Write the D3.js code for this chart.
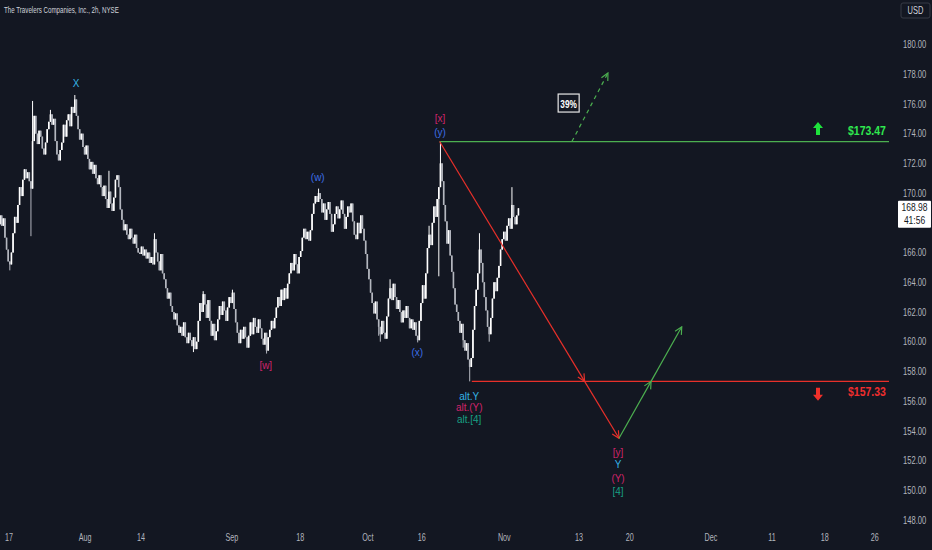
<!DOCTYPE html>
<html><head><meta charset="utf-8">
<script src="https://cdn.jsdelivr.net/npm/d3@7/dist/d3.min.js"></script>
<style>
html,body{margin:0;padding:0;background:#131722;overflow:hidden}
svg{display:block}
</style>
</head><body>
<svg id="chart" width="932" height="550"></svg>
<script>
// ---------------- DATA ----------------
const chartTitle = "The Travelers Companies, Inc., 2h, NYSE";
const currency = "USD";
const startDay = -2;          // first trading-day slot of the series
const barsPerDay = 4;         // 2h bars per session
// 2h closes, 4 per trading day (day -2 .. day 78)
const closes = [
  167.2,167.9,168.5,167.8, 168.3,167.0,166.2,165.4,
  165.2,166.0,167.3,168.4, 168.0,169.2,170.4,169.8,
  170.9,171.6,171.0,171.4, 170.8,170.3,173.5,175.2,
  174.0,173.3,174.2,173.8, 173.0,172.6,173.4,174.3,
  174.8,175.3,174.6,175.0, 173.5,172.6,172.2,172.9,
  173.4,174.6,173.8,174.9, 175.3,174.5,175.8,175.4,
  176.3,175.2,174.3,173.6, 174.0,173.1,172.6,173.2,
  172.3,171.6,172.1,171.3, 171.9,171.0,170.6,171.2,
  170.4,169.8,170.5,169.6, 169.0,170.1,169.3,168.8,
  169.7,170.9,171.2,170.4, 168.9,168.2,167.5,167.9,
  167.2,166.9,167.6,167.0, 166.6,167.2,166.3,166.0,
  165.9,166.4,165.8,166.2, 165.6,166.0,165.3,165.7,
  165.2,166.9,166.0,165.4, 164.8,165.9,164.6,164.2,
  163.6,162.9,163.3,162.4, 162.0,161.5,161.9,161.1,
  160.6,161.0,160.4,161.3, 160.3,159.9,160.6,160.1,
  159.7,160.3,159.5,160.0, 161.4,162.6,162.0,163.2,
  162.5,161.6,162.8,161.4, 160.4,161.2,160.1,160.7,
  161.5,162.4,161.8,162.7, 162.1,161.4,162.3,163.0,
  162.6,163.3,162.2,161.3, 160.6,159.9,160.8,160.2,
  161.0,160.3,159.6,160.4, 161.3,160.5,161.6,161.0,
  160.6,161.5,160.9,160.2, 159.8,160.6,159.4,160.3,
  160.8,161.4,160.9,161.6, 162.3,163.0,162.4,163.5,
  162.8,163.6,162.9,163.9, 164.6,165.3,164.8,165.9,
  165.2,164.6,165.7,166.1, 167.0,167.6,166.9,167.4,
  166.8,167.5,168.6,169.3, 169.8,169.4,170.0,169.6,
  168.7,169.3,168.2,168.9, 169.4,168.6,167.4,167.9,
  168.6,169.1,168.3,168.9, 169.5,168.6,167.6,168.4,
  169.1,168.7,169.3,168.1, 167.2,166.9,168.0,167.3,
  168.5,167.6,166.8,165.9, 164.9,164.2,163.3,162.6,
  161.9,162.7,161.5,161.0, 160.5,161.4,160.6,160.2,
  161.7,162.9,163.6,162.8, 163.9,163.0,162.2,162.8,
  162.0,161.3,162.1,161.6, 162.4,161.6,160.9,161.5,
  160.8,161.3,160.4,160.1, 161.4,162.6,163.8,162.9,
  164.6,166.3,167.2,166.5, 168.0,169.1,168.4,169.6,
  170.4,172.0,170.8,169.2, 168.1,166.6,167.5,165.8,
  164.7,163.6,162.5,162.0, 161.4,160.6,161.2,160.1,
  159.4,159.9,158.8,158.3, 158.9,160.8,162.4,163.5,
  164.6,166.2,165.3,164.0, 163.0,162.1,161.0,160.5,
  161.6,162.9,164.0,163.4, 164.3,165.1,166.2,166.9,
  167.4,166.8,167.8,168.3, 167.6,169.2,168.4,167.9,
  168.5,168.98
];
// extra wick extremes: [day, bar-of-day, price]
const wickHighs = [[3,2,176.2],[6,1,175.6],[10,0,176.6],[15,1,171.5],[22,1,167.3],[29,3,163.4],
  [34,1,163.5],[47,2,170.3],[58,2,164.2],[64,2,167.8],[66,1,173.47],[72,1,167.3],[77,1,170.4]];
const wickLows = [[0,0,164.8],[3,1,167.1],[28,1,159.3],[39,2,159.2],[56,3,160.4],[57,0,160.0],
  [62,3,159.95],[66,0,164.4],[69,3,159.6],[70,3,157.33],[73,3,160.0]];

const lastPrice = 168.98;
const countdown = "41:56";
const priceTicks = [180,178,176,174,172,170,168,166,164,162,160,158,156,154,152,150,148];
const timeTickLabels = ["17","Aug","14","Sep","18","Oct","16","Nov","13","20","Dec","11","18","26"];
const timeTickSlots  = [0, 11.7, 20.3, 34.3, 44.8, 55.2, 63.5, 76.2, 87.7, 95.5, 108, 117.4, 125.5, 133.2];

// key levels
const upperLevel = 173.47, upperLevelFrom = 66.25;
const lowerLevel = 157.33, lowerLevelFrom = 71.2;
// projected path [slot, price]
const projStart = [66.25, 173.47];
const projLow   = [93.85, 153.5];
const projEnd   = [103.5, 161.0];
// alternative dashed path
const altStart = [86.6, 173.47];
const altEnd   = [92.15, 178.08];
const altProbText = "39%";
const altProbPos = [86.1, 176.06];

// wave labels [text, slot, price, colour key]
const waveText  = ["X","[w]","(w)","(x)","[x]","(y)","alt.Y","alt.(Y)","alt.[4]","[y]","Y","(Y)","[4]"];
const waveSlot  = [10.3, 39.5, 47.5, 62.8, 66.3, 66.3, 70.8, 70.8, 70.8, 93.7, 93.7, 93.7, 93.7];
const wavePrice = [177.41, 158.43, 171.08, 159.31, 175.05, 174.11, 156.31, 155.55, 154.74, 152.58, 151.77, 150.83, 149.89];
const waveKind  = ["cyan","crimson","blue","blue","crimson","blue","cyan","crimson","teal","crimson","cyan","crimson","teal"];

// ---------------- STYLE ----------------
const W = 932, H = 550;
const plotRight = 890;
const bg = "#131722";
const font = "'Liberation Sans',Arial,sans-serif";
const kindColor = {cyan:"#35b4e6", crimson:"#d0246b", blue:"#3d6ee6", teal:"#18a084"};
const lineGreen = "#4caf50", lineRed = "#e8302a";
const textGreen = "#2fe84f", textRed = "#ee2e2e";

// compress text horizontally with a transform (the reference typeface is narrow)
function narrow(sel, k){
  sel.each(function(){
    const xv = +(this.getAttribute("x") || 0);
    this.setAttribute("x", 0);
    this.setAttribute("transform", `translate(${xv},0) scale(${k},1)`);
  });
  return sel;
}

const svg = d3.select("#chart");
svg.append("rect").attr("width",W).attr("height",H).attr("fill",bg);

const x = d3.scaleLinear().domain([0, 10]).range([9, 74]);
const y = d3.scaleLinear().domain([148, 180]).range([520, 44.5]);

const defs = svg.append("defs");
defs.append("clipPath").attr("id","plotClip").append("rect")
  .attr("x",0).attr("y",0).attr("width",plotRight).attr("height",H);
function marker(id, color){
  defs.append("marker").attr("id",id).attr("viewBox","0 0 10 10")
    .attr("refX",9).attr("refY",5).attr("markerWidth",9).attr("markerHeight",9)
    .attr("markerUnits","userSpaceOnUse").attr("orient","auto")
    .append("path").attr("d","M1,1 L9,5 L1,9").attr("fill","none")
    .attr("stroke",color).attr("stroke-width",1.3);
}
marker("arrRed", lineRed);
marker("arrGreen", lineGreen);

const plot = svg.append("g").attr("clip-path","url(#plotClip)");

// ---------------- CANDLES ----------------
const bars = closes.map((c,i)=>{
  const o = i>0 ? closes[i-1] : c;
  return {slot: startDay + i/barsPerDay, open:o, close:c, high:Math.max(o,c), low:Math.min(o,c)};
});
wickHighs.forEach(([d,k,p])=>{ const b=bars[(d-startDay)*barsPerDay+k]; if(b) b.high=Math.max(b.high,p); });
wickLows.forEach(([d,k,p])=>{ const b=bars[(d-startDay)*barsPerDay+k]; if(b) b.low=Math.min(b.low,p); });

const step = x(1/barsPerDay) - x(0);
const upCol = "#ffffff", dnCol = "#b4b7bf";
const candles = plot.append("g");
candles.selectAll("line.w").data(bars).join("line")
  .attr("x1",d=>x(d.slot)+step/2).attr("x2",d=>x(d.slot)+step/2)
  .attr("y1",d=>y(d.high)).attr("y2",d=>y(d.low))
  .attr("stroke",d=>d.close>=d.open?upCol:dnCol).attr("stroke-width",1);
candles.selectAll("rect.b").data(bars).join("rect")
  .attr("x",d=>x(d.slot)+step/2-0.8).attr("width",1.6)
  .attr("y",d=>y(Math.max(d.open,d.close)))
  .attr("height",d=>Math.max(1, Math.abs(y(d.open)-y(d.close))))
  .attr("fill",d=>d.close>=d.open?upCol:dnCol);

// ---------------- LEVELS ----------------
plot.append("line").attr("x1",x(upperLevelFrom)).attr("x2",plotRight-1)
  .attr("y1",y(upperLevel)).attr("y2",y(upperLevel)).attr("stroke",lineGreen).attr("stroke-width",1.2);
plot.append("line").attr("x1",x(lowerLevelFrom)).attr("x2",plotRight-1)
  .attr("y1",y(lowerLevel)).attr("y2",y(lowerLevel)).attr("stroke",lineRed).attr("stroke-width",1.2);

// ---------------- PROJECTION ----------------
function px(p){ return [x(p[0]), y(p[1])]; }
function crossAt(a,b,level){
  const [ax,ay]=px(a),[bx,by]=px(b), ly=y(level);
  const t=(ly-ay)/(by-ay); return [ax+(bx-ax)*t, ly];
}
const A=px(projStart), L=px(projLow), E=px(projEnd);
const C1=crossAt(projStart,projLow,lowerLevel), C2=crossAt(projLow,projEnd,lowerLevel);
function seg(p,q,color,mk,dash){
  const l = plot.append("line").attr("x1",p[0]).attr("y1",p[1]).attr("x2",q[0]).attr("y2",q[1])
    .attr("stroke",color).attr("stroke-width",1.2).attr("marker-end","url(#"+mk+")");
  if(dash) l.attr("stroke-dasharray",dash);
}
seg(A,C1,lineRed,"arrRed");
seg(C1,L,lineRed,"arrRed");
seg(L,C2,lineGreen,"arrGreen");
seg(C2,E,lineGreen,"arrGreen");
seg(px(altStart),px(altEnd),lineGreen,"arrGreen","4,4");

// probability box
const pb = px(altProbPos);
plot.append("rect").attr("x",pb[0]-10.5).attr("y",pb[1]-9).attr("width",21).attr("height",18)
  .attr("fill",bg).attr("stroke","#e8e8e8").attr("stroke-width",1.2);
narrow(plot.append("text").attr("x",pb[0]).attr("y",pb[1]+0.5).attr("text-anchor","middle")
  .attr("dominant-baseline","central").attr("fill","#ffffff").attr("font-weight","bold")
  .attr("font-family",font).attr("font-size",11.5).text(altProbText), 0.72);

// ---------------- WAVE LABELS ----------------
narrow(plot.selectAll("text.wave").data(waveText).join("text")
  .attr("x",(d,i)=>x(waveSlot[i])).attr("y",(d,i)=>y(wavePrice[i]))
  .attr("text-anchor","middle").attr("dominant-baseline","central")
  .attr("fill",(d,i)=>kindColor[waveKind[i]])
  .attr("font-family",font).attr("font-size",10.5).text(d=>d), 0.95);

// level price labels + arrows
const upY = y(upperLevel), dnY = y(lowerLevel);
narrow(svg.append("text").attr("x",867).attr("y",upY-10.5).attr("text-anchor","middle")
  .attr("dominant-baseline","central").attr("fill",textGreen).attr("font-weight","bold")
  .attr("font-family",font).attr("font-size",12.5).text("$"+upperLevel.toFixed(2)), 0.84);
narrow(svg.append("text").attr("x",867).attr("y",dnY+10.5).attr("text-anchor","middle")
  .attr("dominant-baseline","central").attr("fill",textRed).attr("font-weight","bold")
  .attr("font-family",font).attr("font-size",12.5).text("$"+lowerLevel.toFixed(2)), 0.84);
svg.append("path").attr("transform",`translate(818,${upY-19.5})`)
  .attr("d","M0,0 L5,6 L2,6 L2,13 L-2,13 L-2,6 L-5,6 Z").attr("fill","#1ee33c");
svg.append("path").attr("transform",`translate(818,${dnY+19.5})`)
  .attr("d","M0,0 L5,-6 L2,-6 L2,-13 L-2,-13 L-2,-6 L-5,-6 Z").attr("fill","#f0302a");

// ---------------- AXES ----------------
const axisColor = "#b2b5be";
const cy = y(lastPrice);
const boxTop = cy-7.5, boxBottom = cy+19.5;
// ticks hidden behind the last-price tag are dropped, as the platform does
const visibleTicks = priceTicks.filter(t=>{ const ty=y(t); return ty<boxTop-5 || ty>boxBottom+5; });
const yAxis = d3.axisRight(y).tickValues(visibleTicks).tickSize(0).tickPadding(0)
  .tickFormat(d=>d.toFixed(2));
const gy = svg.append("g").attr("transform","translate(903,0)").call(yAxis);
gy.select(".domain").remove();
narrow(gy.selectAll("text").attr("fill",axisColor).attr("font-family",font).attr("font-size",10), 0.76);

const gx = svg.append("g").attr("transform","translate(0,538)");
narrow(gx.selectAll("text").data(timeTickLabels).join("text")
  .attr("x",(d,i)=>x(timeTickSlots[i])).attr("y",0)
  .attr("text-anchor","middle").attr("dominant-baseline","central")
  .attr("fill",axisColor).attr("font-family",font).attr("font-size",10).text(d=>d), 0.72);

// current price tag
svg.append("rect").attr("x",898).attr("y",boxTop).attr("width",33).attr("height",boxBottom-boxTop)
  .attr("fill","#ffffff").attr("rx",1);
narrow(svg.append("text").attr("x",914.5).attr("y",cy).attr("text-anchor","middle")
  .attr("dominant-baseline","central").attr("fill","#131722")
  .attr("font-family",font).attr("font-size",10).text(lastPrice.toFixed(2)), 0.85);
narrow(svg.append("text").attr("x",914.5).attr("y",cy+12.5).attr("text-anchor","middle")
  .attr("dominant-baseline","central").attr("fill","#131722")
  .attr("font-family",font).attr("font-size",10).text(countdown), 0.85);

// currency box
svg.append("rect").attr("x",901).attr("y",3).attr("width",29).attr("height",15)
  .attr("fill","none").attr("stroke","#363a45").attr("rx",2);
narrow(svg.append("text").attr("x",915.5).attr("y",10.5).attr("text-anchor","middle")
  .attr("dominant-baseline","central").attr("fill","#d1d4dc")
  .attr("font-family",font).attr("font-size",10).text(currency), 0.75);

// title
const title = svg.append("text").attr("x",4).attr("y",10).attr("dominant-baseline","central")
  .attr("fill","#d1d4dc").attr("font-family",font).attr("font-size",8.5).text(chartTitle);
narrow(title, 115 / title.node().getComputedTextLength());
</script>
</body></html>
